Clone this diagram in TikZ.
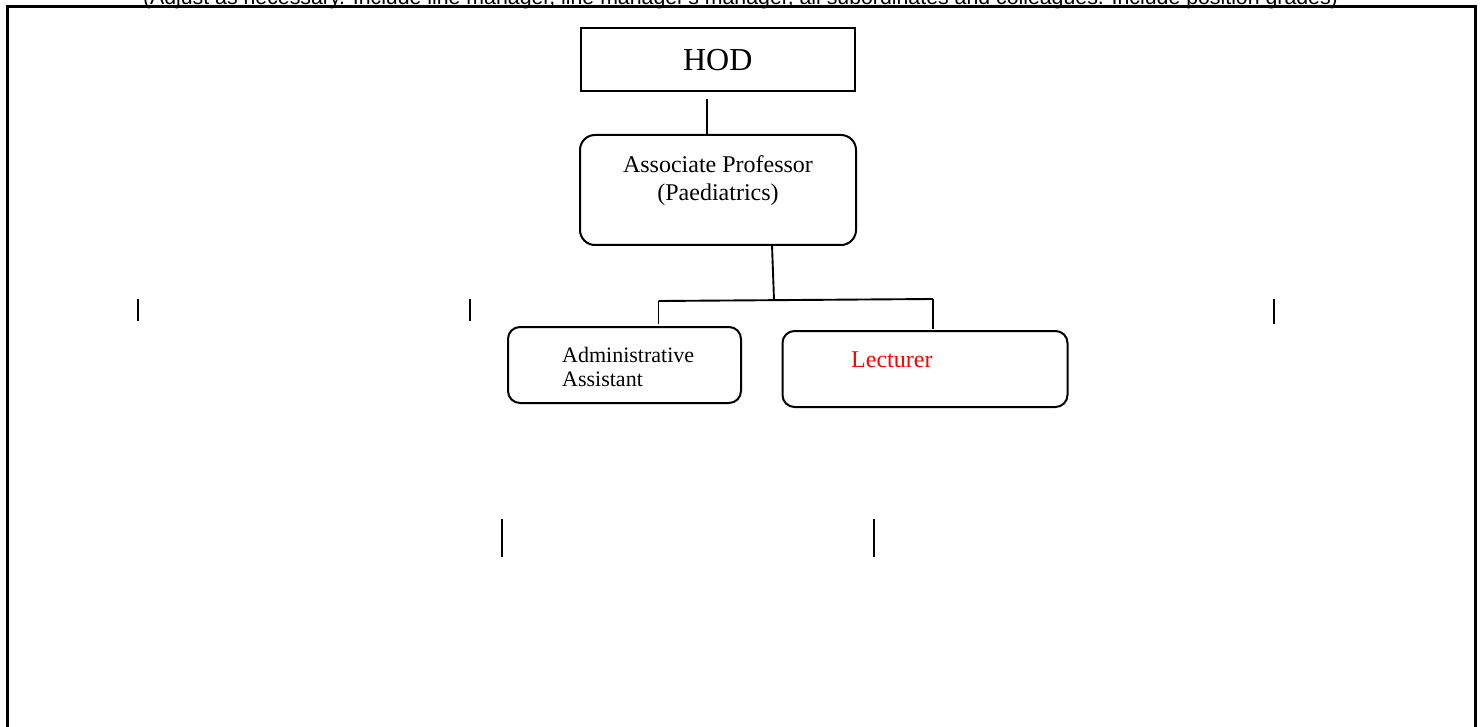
\documentclass[tikz,border=0pt]{standalone}
\usepackage{fontspec}
\usepackage{graphicx}
\setmainfont{Liberation Serif}
\newfontfamily\arialfont{Liberation Sans}
\begin{document}
\begin{tikzpicture}[x=1pt,y=-1pt,
  conn/.style={line width=1.9pt,draw=black},
  tick/.style={line width=1.9pt,draw=black},
  lbl/.style={inner sep=0pt,anchor=base}]
\useasboundingbox (0,0) rectangle (1483,727);
\clip (0,0) rectangle (1483,727);
% top note (mostly cut off, as in the reference)
\node[lbl] (note) at (740.5,5) {\resizebox{1195pt}{!}{\arialfont\fontsize{20}{24}\selectfont (Adjust as necessary. Include line manager, line manager's manager, all subordinates and colleagues. Include position grades)}};
% outer frame
\coordinate (fbl) at (7.5,740);
\coordinate (ftl) at (7.5,6.5);
\coordinate (ftr) at (1475.5,6.5);
\coordinate (fbr) at (1475.5,740);
\draw[line width=2.2pt] (fbl) -- (ftl) -- (ftr) -- (fbr);
% boxes
\node[draw,line width=2pt,minimum width=274.5pt,minimum height=62.5pt,inner sep=0pt] (hod) at (717.75,59.75) {};
\node[lbl] (hodt) at (717.75,71) {\fontsize{32}{38}\selectfont HOD};
\node[draw,line width=2pt,rounded corners=15pt,minimum width=276pt,minimum height=110pt,inner sep=0pt] (assoc) at (718,190) {};
\node[lbl] (assoct1) at (718,173) {\fontsize{24}{28}\selectfont Associate Professor};
\node[lbl] (assoct2) at (718,201) {\fontsize{24}{28}\selectfont (Paediatrics)};
\node[draw,line width=2pt,rounded corners=12pt,minimum width=233pt,minimum height=76pt,inner sep=0pt] (admin) at (624.5,365) {};
\node[inner sep=0pt,anchor=base west] (admint1) at (562,362) {\fontsize{22}{24}\selectfont Administrative};
\node[inner sep=0pt,anchor=base west] (admint2) at (562,386) {\fontsize{22}{24}\selectfont Assistant};
\node[draw,line width=2pt,rounded corners=12pt,minimum width=285pt,minimum height=76pt,inner sep=0pt] (lect) at (925,369) {};
\node[inner sep=0pt,anchor=base west,text=red] (lectt) at (851,367) {\fontsize{24}{28}\selectfont Lecturer};
% connectors
\coordinate (h1) at (707,99);
\draw[conn] (h1) -- (h1 |- assoc.north);
\coordinate (a1) at (772,245);
\coordinate (b0) at (774,299.8);
\coordinate (bl) at (658.5,301);
\coordinate (br) at (933,299);
\coordinate (bld) at (658.5,324);
\coordinate (brd) at (933,329);
\draw[conn] (a1) -- (b0);
\draw[conn] (bl) -- (br);
\draw[conn] (bl) -- (bld);
\draw[conn] (br) -- (brd);
% stray ticks
\coordinate (t1a) at (138,299); \coordinate (t1b) at (138,321);
\coordinate (t2a) at (470,299); \coordinate (t2b) at (470,321);
\coordinate (t3a) at (1274,299); \coordinate (t3b) at (1274,324);
\coordinate (t4a) at (502,519); \coordinate (t4b) at (502,557);
\coordinate (t5a) at (874,519); \coordinate (t5b) at (874,557);
\draw[tick] (t1a) -- (t1b);
\draw[tick] (t2a) -- (t2b);
\draw[tick] (t3a) -- (t3b);
\draw[tick] (t4a) -- (t4b);
\draw[tick] (t5a) -- (t5b);
\end{tikzpicture}
\end{document}
